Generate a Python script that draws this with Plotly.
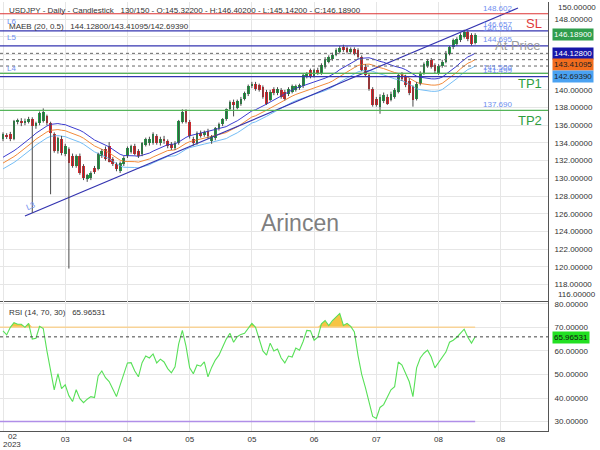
import numpy as np
import pandas as pd
import plotly.graph_objects as go

# ---------------- data ----------------
opens = [134.40, 134.85, 134.96, 134.40, 136.40, 136.45, 136.20, 136.40, 136.65, 135.95,
         136.20, 136.45, 137.00, 136.20, 135.00, 133.05, 134.50, 132.80, 133.30, 132.50,
         131.40, 132.50, 131.40, 129.90, 130.00, 131.20, 131.10, 132.50, 133.30, 133.60,
         132.15, 131.60, 130.80, 131.60, 132.50, 133.00, 133.60, 133.05, 132.70, 133.80,
         133.95, 133.95, 134.74, 133.95, 134.40, 134.18, 133.90, 133.40, 133.95, 136.40,
         137.60, 136.40, 134.50, 133.95, 135.10, 134.90, 135.30, 134.20, 134.51, 135.64,
         136.10, 136.65, 137.78, 138.67, 138.00, 138.40, 139.00, 139.50, 140.40, 140.70,
         140.50, 140.30, 139.80, 138.90, 140.10, 139.60, 140.00, 139.80, 139.50, 139.80,
         140.00, 140.20, 140.40, 141.50, 142.20, 141.60, 142.30, 141.90, 142.60, 143.20,
         143.50, 143.96, 144.30, 144.86, 144.75, 144.30, 144.60, 144.50, 143.70, 142.60,
         141.70, 140.10, 139.00, 138.10, 138.70, 139.24, 138.90, 139.24, 139.80, 141.70,
         141.50, 141.00, 140.36, 139.00, 140.70, 141.90, 142.70, 143.40, 142.80, 141.90,
         142.70, 143.20, 144.10, 144.80, 145.20, 145.65, 146.00, 146.55, 146.20, 145.322]
highs = [135.20, 135.10, 135.25, 136.60, 136.75, 136.80, 136.75, 136.95, 136.90, 136.40,
         137.55, 137.90, 137.20, 136.40, 135.20, 134.70, 134.80, 133.90, 133.50, 132.80,
         132.70, 132.80, 131.60, 130.50, 130.80, 131.40, 132.90, 133.30, 133.60, 134.10,
         132.40, 131.80, 131.90, 132.50, 133.60, 133.80, 133.90, 133.30, 134.10, 134.60,
         134.70, 135.20, 135.00, 134.70, 134.80, 134.40, 134.10, 134.20, 136.60, 137.80,
         137.80, 136.60, 134.70, 135.30, 135.40, 135.40, 135.60, 134.90, 135.80, 136.30,
         136.80, 137.90, 138.80, 138.90, 138.90, 139.20, 139.80, 140.60, 140.90, 140.90,
         140.70, 140.50, 140.00, 140.00, 140.30, 140.30, 140.20, 140.00, 140.30, 140.60,
         140.60, 140.70, 141.90, 142.00, 142.40, 142.40, 142.50, 143.00, 143.70, 143.90,
         144.20, 144.70, 144.95, 145.10, 144.90, 144.80, 144.80, 144.70, 143.90, 142.90,
         141.90, 140.30, 139.20, 139.50, 139.70, 139.50, 139.80, 140.20, 141.90, 142.00,
         141.70, 141.30, 140.50, 140.90, 142.10, 143.10, 143.50, 143.60, 143.00, 142.90,
         143.40, 144.40, 144.95, 145.80, 145.95, 146.40, 146.80, 146.70, 146.40, 146.402]
lows = [134.20, 134.45, 134.20, 134.30, 136.10, 135.90, 136.00, 136.20, 126.10, 135.60,
        136.00, 136.30, 136.00, 128.20, 132.90, 132.80, 132.60, 132.50, 119.80, 131.20,
        131.20, 130.40, 129.80, 129.60, 129.80, 130.50, 130.90, 132.30, 132.00, 131.80,
        131.40, 130.80, 130.60, 131.40, 132.30, 132.80, 132.60, 132.30, 132.50, 133.60,
        133.70, 133.80, 133.80, 133.70, 133.90, 133.40, 133.20, 133.20, 133.80, 136.20,
        136.20, 134.50, 133.70, 133.80, 134.60, 134.70, 134.50, 133.90, 134.30, 135.40,
        135.90, 136.50, 137.60, 137.00, 137.80, 138.20, 138.80, 139.30, 140.20, 139.90,
        139.80, 139.00, 138.30, 138.70, 139.40, 139.40, 139.00, 138.80, 139.30, 139.60,
        139.80, 140.00, 140.20, 141.30, 141.30, 141.40, 141.70, 141.70, 142.40, 143.00,
        143.30, 143.80, 144.10, 144.30, 144.10, 144.10, 143.90, 143.50, 142.10, 141.50,
        139.90, 138.10, 138.10, 137.30, 138.50, 138.30, 138.70, 139.00, 139.60, 141.00,
        140.30, 139.40, 138.10, 138.80, 140.50, 141.70, 142.50, 142.40, 141.90, 141.70,
        142.50, 143.00, 143.90, 144.60, 145.00, 145.40, 145.80, 145.50, 145.00, 145.142]
closes = [134.96, 134.70, 134.40, 136.43, 136.50, 136.20, 136.50, 136.70, 135.86, 136.20,
          137.33, 137.55, 136.20, 135.08, 133.05, 134.51, 132.83, 133.60, 131.70, 131.36,
          132.50, 130.60, 130.00, 130.40, 130.60, 130.70, 132.70, 133.05, 132.15, 131.90,
          131.60, 131.00, 131.70, 132.30, 133.40, 133.60, 132.80, 132.50, 133.95, 134.40,
          134.50, 134.96, 133.95, 134.50, 134.20, 133.61, 133.39, 133.95, 136.43, 137.55,
          136.40, 134.74, 133.95, 135.08, 134.80, 135.20, 134.74, 134.74, 135.64, 136.10,
          136.65, 137.78, 138.67, 138.34, 138.70, 139.00, 139.60, 140.40, 140.70, 140.10,
          140.00, 139.24, 138.45, 139.80, 139.60, 140.10, 139.24, 139.00, 140.10, 140.40,
          140.40, 140.50, 141.70, 141.80, 141.50, 142.20, 141.90, 142.80, 143.50, 143.74,
          143.96, 144.52, 144.75, 144.52, 144.30, 144.60, 144.10, 143.70, 142.30, 141.70,
          140.10, 138.34, 138.34, 139.24, 139.46, 138.45, 139.57, 140.00, 141.70, 141.26,
          140.50, 139.60, 138.90, 140.70, 141.90, 142.90, 143.30, 142.60, 142.10, 142.70,
          143.20, 144.20, 144.80, 145.60, 145.76, 146.20, 146.55, 145.70, 145.20, 146.189]
# closes of the 19 loaded-but-hidden bars before the first visible one (for the MA)
prior_closes = [130.2, 130.5, 130.2, 130.6, 130.1, 129.9, 130.2, 128.9, 128.9, 131.2,
                131.4, 132.1, 131.5, 132.4, 133.3, 134.4, 134.6, 135.0, 134.1]
rsi_vals = [68.5, 66.8, 70.0, 72.0, 71.3, 71.3, 70.0, 71.7, 65.0, 65.4,
            70.4, 69.5, 60.0, 52.0, 43.5, 50.3, 44.0, 45.6, 41.0, 38.5,
            43.5, 39.7, 38.0, 39.5, 40.6, 40.2, 49.4, 51.5, 48.6, 47.0,
            44.0, 40.6, 45.5, 50.0, 54.9, 55.0, 51.5, 49.0, 55.0, 57.8,
            57.0, 58.7, 54.9, 56.5, 55.3, 52.5, 50.7, 53.2, 63.0, 68.7,
            62.0, 52.8, 50.3, 54.0, 53.5, 55.3, 49.0, 53.0, 56.1, 58.2,
            61.6, 65.0, 67.5, 63.7, 66.0, 67.0, 67.5, 69.5, 71.7, 70.0,
            64.5, 60.0, 58.2, 63.3, 60.0, 60.8, 57.0, 54.9, 57.8, 57.4,
            61.2, 60.3, 64.0, 68.7, 68.5, 64.5, 65.8, 71.5, 72.9, 70.8,
            72.9, 74.5, 75.9, 70.8, 71.7, 70.4, 68.0, 58.0, 50.0, 44.5,
            38.0, 32.2, 31.3, 36.0, 37.2, 40.2, 43.5, 44.8, 55.3, 54.0,
            50.3, 46.9, 40.6, 52.8, 57.0, 59.0, 60.3, 57.4, 52.8, 54.9,
            57.4, 59.5, 63.7, 64.5, 65.8, 67.5, 69.2, 65.8, 63.3, 65.96531]

ma_period = 20
maeb_pct = 0.5
maeb_last = [144.128, 143.41095, 142.6939]
rsi_upper, rsi_lower = 70, 30

tick_bars = [0, 17, 34, 51, 68, 85, 102, 119, 136]
tick_text = ["", "03", "04", "05", "05", "06", "07", "08", "08"]
first_tick_month, first_tick_year = "02", "2023"

price_ticks = [118, 120, 122, 124, 126, 128, 130, 132, 134, 136, 138, 140, 142, 144, 146, 148]
hidden_price_ticks = [142, 144, 146]   # covered by the value boxes in the reference
rsi_ticks = [30, 40, 50, 60, 70, 80]

levels = {"SL": 148.602, "L6": 146.657, "L5": 144.97, "TP1": 141.86, "L4": 141.49, "TP2": 137.69}
level_texts = ["148.602", "146.657", "146.190", "144.695", "141.506", "141.499", "137.690"]
trend_x = [6.0, 140.7]
trend_y = [125.74, 149.25]

header = ("USDJPY - Daily - Candlestick\u00a0\u00a0\u00a0130/150 - O:145.32200 - H:146.40200"
          " - L:145.14200 - C:146.18900")
maeb_header = "MAEB (20, 0.5)\u00a0\u00a0\u00a0144.12800/143.41095/142.69390"
rsi_header = "RSI (14, 70, 30)\u00a0\u00a0\u00a065.96531"

# ---------------- styles ----------------
C_UP, C_DN, C_WICK = "#1f9e45", "#e0262c", "#4a4a4a"
C_NAVY, C_RED, C_GREEN = "#3434b0", "#dd3535", "#55b55a"
C_MA_UP, C_MA_MID, C_MA_LO = "#3c3cd0", "#f28a3a", "#74bdf5"
C_GRID = "#e6e6e6"
C_LBL = "#6f8ff0"
FONT = "Liberation Sans, Arial, sans-serif"

W, H = 600, 450
ML, MR, MT, MB = 0, 52, 0, 19
PW, PH = W - ML - MR, H - MT - MB
SPLIT = 300.7
split_dom = (PH - SPLIT) / PH


def px(x):
    return (x - ML) / PW


def py(y):
    return (PH - (y - MT)) / PH


n = len(closes)
bars = np.arange(n)
o = np.array(opens)
c = np.array(closes)
all_c = prior_closes + closes
sma = pd.Series(all_c).rolling(ma_period).mean().to_numpy()[len(prior_closes):]
ma_up = sma * (1 + maeb_pct / 100)
ma_lo = sma * (1 - maeb_pct / 100)
rsi = np.array(rsi_vals)

fig = go.Figure()

# MAEB bands
for series, col in ((ma_lo, C_MA_LO), (sma, C_MA_MID), (ma_up, C_MA_UP)):
    fig.add_trace(go.Scatter(x=bars, y=series, mode="lines", line=dict(color=col, width=1),
                             xaxis="x", yaxis="y", hoverinfo="skip"))
# trendline
fig.add_trace(go.Scatter(x=trend_x, y=trend_y, mode="lines", line=dict(color=C_NAVY, width=1.2),
                         xaxis="x", yaxis="y", hoverinfo="skip"))
# wicks
wx, wy = [], []
for i in range(n):
    wx += [i, i, None]
    wy += [lows[i], highs[i], None]
fig.add_trace(go.Scatter(x=wx, y=wy, mode="lines", line=dict(color=C_WICK, width=1),
                         xaxis="x", yaxis="y", hoverinfo="skip"))
# bodies
fig.add_trace(go.Bar(x=bars, y=c - o, base=o, width=0.75,
                     marker=dict(color=[C_UP if cc >= oo else C_DN for oo, cc in zip(o, c)],
                                 line=dict(width=0)),
                     xaxis="x", yaxis="y"))

# RSI panel
fig.add_trace(go.Scatter(x=bars, y=[rsi_upper] * n, mode="lines", line=dict(width=0),
                         xaxis="x2", yaxis="y2", hoverinfo="skip"))
fig.add_trace(go.Scatter(x=bars, y=np.maximum(rsi, rsi_upper), mode="lines", line=dict(width=0),
                         fill="tonexty", fillcolor="#f6c445", xaxis="x2", yaxis="y2", hoverinfo="skip"))
fig.add_trace(go.Scatter(x=[-1, n - 1], y=[rsi_upper, rsi_upper], mode="lines",
                         line=dict(color="#f8d397", width=1.5), xaxis="x2", yaxis="y2"))
fig.add_trace(go.Scatter(x=[-1, n - 1], y=[rsi_lower, rsi_lower], mode="lines",
                         line=dict(color="#b08ee8", width=1.5), xaxis="x2", yaxis="y2"))
fig.add_trace(go.Scatter(x=bars, y=rsi, mode="lines", line=dict(color="#58e058", width=1.1),
                         xaxis="x2", yaxis="y2"))

shapes = []
lvl_col = {"SL": C_RED, "L6": C_NAVY, "L5": C_NAVY, "TP1": C_GREEN, "L4": C_NAVY, "TP2": C_GREEN}
for k, v in levels.items():
    shapes.append(dict(type="line", xref="paper", x0=0, x1=1, yref="y", y0=v, y1=v,
                       line=dict(color=lvl_col[k], width=1.2)))
for v in maeb_last:
    shapes.append(dict(type="line", xref="paper", x0=0, x1=1, yref="y", y0=v, y1=v,
                       line=dict(color="#666", width=1, dash="dot")))
shapes.append(dict(type="line", xref="paper", x0=0, x1=1, yref="y2", y0=rsi[-1], y1=rsi[-1],
                   line=dict(color="#444", width=1, dash="dot")))

ann = []


def add(text, x, y, size=8, color="#333", xa="left", ya="middle", bg=None, **kw):
    d = dict(text=text, xref="paper", yref="paper", x=px(x), y=py(y), xanchor=xa, yanchor=ya,
             showarrow=False, font=dict(size=size, color=color, family=FONT))
    if bg:
        d.update(bgcolor=bg, borderpad=1)
    d.update(kw)
    ann.append(d)


add(header, 7, 9)
add(maeb_header, 7, 25)
add(rsi_header, 7, 312)
add("Arincen", 300, 222, size=23, color="#7f7f7f", xa="center")
add("At Price", 518, 44, size=13, color="#9c9c9c", xa="center")
add("SL", 534, 22, size=13, color="#e03a3a", xa="center")
add("TP1", 530, 82, size=13, color="#2e9e3e", xa="center")
add("TP2", 530, 119, size=13, color="#2e9e3e", xa="center")
for t, yy in zip(level_texts, [7, 23, 27, 38, 66, 69, 103]):
    add(t, 497, yy, color=C_LBL, xa="center")
for t, yy in (("L6", 20), ("L5", 36), ("L4", 67)):
    add(t, 5, yy, color=C_LBL)
add("L3", 30, 205, color=C_LBL, xa="center", textangle=-22)
add(first_tick_month, 12, 437, xa="center")
add(first_tick_year, 12, 445, xa="center")
add("150.00000", 556, 6)
add("116.00000", 556, 294)
add(f"{closes[-1]:.5f}", 552, 33, color="white", bg="#2f9d4c")
add(f"{maeb_last[0]:.5f}", 552, 52, color="white", bg="#1616a8")
add(f"{maeb_last[1]:.5f}", 552, 63, color="#222", bg="#f26d1e")
add(f"{maeb_last[2]:.5f}", 552, 75, color="#222", bg="#4aa2f2")
add(f"{rsi[-1]:.5f}", 552, 337, color="#111", bg="#22e022")

price_ticktext = ["" if v in hidden_price_ticks else f"{v:.5f}" for v in price_ticks]

xr = [-0.82, 148.9]
axis_common = dict(showgrid=True, gridcolor=C_GRID, gridwidth=1, zeroline=False,
                   showline=True, linecolor="#555", linewidth=1, ticks="")
fig.update_layout(
    width=W, height=H, margin=dict(l=ML, r=MR, t=MT, b=MB),
    plot_bgcolor="white", paper_bgcolor="white", showlegend=False,
    barmode="overlay", bargap=0,
    font=dict(family=FONT, size=8, color="#333"),
    xaxis=dict(domain=[0, 1], anchor="y", range=xr, tickvals=tick_bars, showticklabels=False,
               **axis_common),
    xaxis2=dict(domain=[0, 1], anchor="y2", matches="x", range=xr, tickvals=tick_bars,
                ticktext=tick_text, tickfont=dict(size=8), **axis_common),
    yaxis=dict(domain=[split_dom, 1], anchor="x", range=[116.10, 149.93], side="right",
               tickvals=price_ticks, ticktext=price_ticktext, tickfont=dict(size=8),
               ticklabelstandoff=4, **axis_common),
    yaxis2=dict(domain=[0, split_dom], anchor="x2", range=[26.0, 81.05], side="right",
                tickvals=rsi_ticks, tickformat=".5f", tickfont=dict(size=8),
                ticklabelstandoff=4, **axis_common),
    shapes=shapes, annotations=ann,
)

fig.write_html("out.html")
